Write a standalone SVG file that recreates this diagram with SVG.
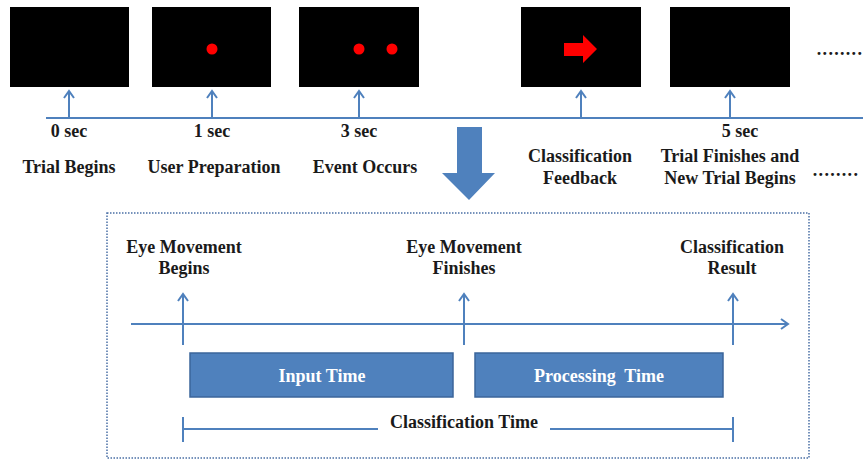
<svg xmlns="http://www.w3.org/2000/svg" width="863" height="461" viewBox="0 0 863 461">
<style>
.t{font-family:"Liberation Serif","Times New Roman",serif;font-weight:bold;font-size:18px;fill:#1a1a1a;text-anchor:middle}
.w{font-family:"Liberation Serif","Times New Roman",serif;font-weight:bold;font-size:18px;fill:#ffffff;text-anchor:middle}
.ln{stroke:#4f81bd;stroke-width:2;fill:none}
.scr{fill:#000000}
.bx{fill:#4f81bd;stroke:#3b659b;stroke-width:1.5}
</style>
<defs>
<marker id="ah" markerWidth="12" markerHeight="12" refX="10" refY="6" orient="auto" markerUnits="userSpaceOnUse">
<path d="M3,1 L10,6 L3,11" fill="none" stroke="#4f81bd" stroke-width="2"/>
</marker>
</defs>
<rect width="863" height="461" fill="#ffffff"/>

<g id="screen1"><rect class="scr" x="10" y="7" width="119" height="80"/></g>
<g id="screen2"><rect class="scr" x="152" y="7" width="119" height="80"/><circle cx="212" cy="49" r="5.5" fill="#ff0000"/></g>
<g id="screen3"><rect class="scr" x="299" y="7" width="120" height="80"/><circle cx="359" cy="49" r="5.5" fill="#ff0000"/><circle cx="392" cy="49" r="5.5" fill="#ff0000"/></g>
<g id="screen4"><rect class="scr" x="521" y="7" width="120" height="80"/><path d="M564,43 L583,43 L583,35 L597,49 L583,63 L583,56 L564,56 Z" fill="#ff0000"/></g>
<g id="screen5"><rect class="scr" x="670" y="7" width="120" height="80"/></g>

<g id="connectors">
<line class="ln" x1="46" y1="118" x2="863" y2="118"/>
<line class="ln" x1="69" y1="118" x2="69" y2="91" marker-end="url(#ah)"/>
<line class="ln" x1="212" y1="118" x2="212" y2="91" marker-end="url(#ah)"/>
<line class="ln" x1="359" y1="118" x2="359" y2="91" marker-end="url(#ah)"/>
<line class="ln" x1="581" y1="118" x2="581" y2="91" marker-end="url(#ah)"/>
<line class="ln" x1="730" y1="118" x2="730" y2="91" marker-end="url(#ah)"/>
<path d="M457,127 L482,127 L482,173 L495,173 L469,200 L442,173 L457,173 Z" fill="#4f81bd"/>
<line class="ln" x1="131" y1="324" x2="788" y2="324" marker-end="url(#ah)"/>
<line class="ln" x1="183" y1="345" x2="183" y2="294" marker-end="url(#ah)"/>
<line class="ln" x1="464" y1="345" x2="464" y2="294" marker-end="url(#ah)"/>
<line class="ln" x1="733" y1="345" x2="733" y2="294" marker-end="url(#ah)"/>
<line class="ln" x1="183" y1="429" x2="378" y2="429"/>
<line class="ln" x1="183" y1="417" x2="183" y2="442"/>
<line class="ln" x1="550" y1="429" x2="733" y2="429"/>
<line class="ln" x1="733" y1="417" x2="733" y2="442"/>
</g>

<g id="labels-top">
<text class="t" x="69" y="137">0 sec</text>
<text class="t" x="212" y="137">1 sec</text>
<text class="t" x="359" y="137">3 sec</text>
<text class="t" x="740" y="137">5 sec</text>
<text class="t" x="69" y="173">Trial Begins</text>
<text class="t" x="214" y="173">User Preparation</text>
<text class="t" x="365" y="173">Event Occurs</text>
<text class="t" x="580" y="162">Classification</text>
<text class="t" x="580" y="184">Feedback</text>
<text class="t" x="730" y="162">Trial Finishes and</text>
<text class="t" x="730" y="184">New Trial Begins</text>
<text class="t" x="840" y="55" style="letter-spacing:1.3px">........</text>
<text class="t" x="836" y="176" style="letter-spacing:1.3px">........</text>
</g>

<g id="panel">
<rect x="107" y="213" width="702" height="245" fill="none" stroke="#4a6fa5" stroke-width="1.5" stroke-dasharray="1.5,1.5"/>
</g>
<g id="event-begins">
<text class="t" x="184" y="253">Eye Movement</text>
<text class="t" x="184" y="274">Begins</text>
</g>
<g id="event-finishes">
<text class="t" x="464" y="253">Eye Movement</text>
<text class="t" x="464" y="274">Finishes</text>
</g>
<g id="event-result">
<text class="t" x="732" y="253">Classification</text>
<text class="t" x="732" y="274">Result</text>
</g>
<g id="input-time">
<rect class="bx" x="190" y="353" width="263" height="44"/>
<text class="w" x="322" y="382">Input Time</text>
</g>
<g id="processing-time">
<rect class="bx" x="475" y="353" width="248" height="44"/>
<text class="w" x="599" y="382" style="white-space:pre" xml:space="preserve">Processing  Time</text>
</g>
<g id="classification-time">
<text class="t" x="464" y="428">Classification Time</text>
</g>
</svg>
